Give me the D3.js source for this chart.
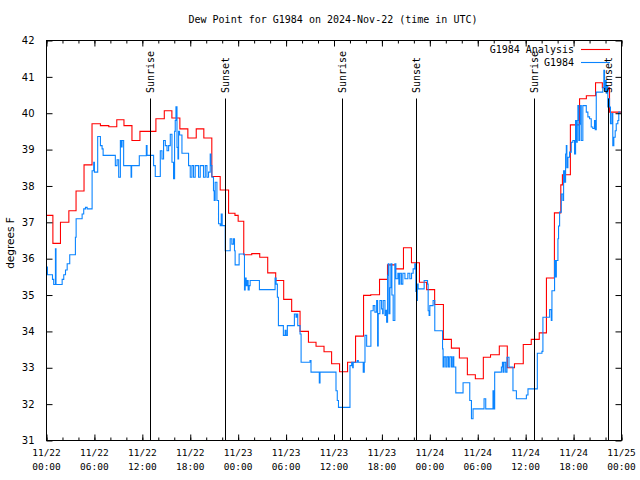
<!DOCTYPE html>
<html><head><meta charset="utf-8">
<script src="https://cdn.jsdelivr.net/npm/d3@7"></script>
<style>body{margin:0;background:#fff}svg{display:block}</style>
</head><body>
<svg id="c" width="640" height="480"></svg>
<script>
// ---- data (hours since 2024-11-22 00:00 UTC, degrees F) ----
const analysisT = [0,0.8,1.75,2.8,3.7,4.7,5.7,6.75,7.8,8.8,9.7,10.7,11.7,13.7,14.75,15.7,16.7,17.7,18.75,19.7,20.7,21.75,22.8,23.6,24.0,24.7,25.7,26.7,27.7,28.7,29.7,30.7,31.75,32.8,33.75,34.75,35.7,36.7,37.7,38.7,39.7,40.6,41.7,42.7,43.7,44.7,45.7,46.7,47.6,48.6,49.7,50.7,51.7,52.7,53.7,54.7,55.6,56.7,57.7,58.6,59.7,60.7,61.7,62.6,63.6,64.4,64.6,65.6,66.75,67.6,68.75,69.6,70.5,72];
const analysisV = [37.19,36.42,37.0,37.32,37.86,38.58,39.71,39.66,39.63,39.82,39.66,39.25,39.50,39.85,40.07,39.87,39.57,39.32,39.57,39.32,38.26,37.89,37.25,37.19,37.03,36.11,36.14,36.04,35.61,35.40,34.88,34.55,34.0,33.70,33.59,33.44,33.11,32.89,33.15,33.87,34.99,35.01,35.43,35.83,35.72,36.30,35.89,35.35,35.15,34.74,33.78,33.54,33.27,32.81,32.70,33.29,33.36,33.60,33.0,33.11,33.64,33.78,33.96,35.47,37.26,38.03,38.31,39.68,40.40,40.48,40.84,40.70,40.03,40.03];

const obsT = [0,0.12,0.75,0.9,1.12,1.19,1.96,2.16,2.38,2.59,2.91,3.62,3.71,4.46,4.66,4.88,5.09,5.71,5.91,6.0,6.41,6.75,6.96,7.09,8.62,8.84,9.04,9.25,9.34,9.46,9.66,10.59,10.66,11.62,12.5,12.59,13.41,13.62,14.25,14.46,14.66,14.88,15.09,15.29,15.5,15.71,15.91,16.04,16.12,16.21,16.34,16.46,16.54,16.66,16.96,17.79,18.0,18.21,18.41,18.62,19.04,19.25,19.66,19.88,20.09,20.29,20.5,20.59,20.71,20.91,21.0,21.12,21.34,21.54,21.75,21.88,22.0,22.38,23.0,23.21,23.41,23.54,23.62,24.12,24.79,24.88,25.0,25.12,25.25,25.38,25.5,26.66,28.62,28.75,28.91,29.04,29.66,29.88,30.0,30.16,31.04,31.25,31.34,31.46,31.75,31.88,33.0,33.12,34.16,34.25,36.25,36.41,36.56,38.0,38.21,38.34,38.41,38.91,39.04,39.66,39.79,39.88,40.09,40.62,40.91,41.12,41.34,41.46,41.54,41.75,41.96,42.09,42.16,42.38,42.46,42.59,42.71,42.79,42.88,43.0,43.12,43.25,43.41,43.62,43.75,44.0,44.12,44.25,44.44,44.62,44.88,45.25,45.5,45.71,45.91,46.12,46.25,46.34,46.44,46.54,47.29,47.71,47.79,47.91,48.0,48.41,48.62,49.59,49.66,49.79,50.0,50.16,50.34,50.5,50.71,50.87,51.0,51.25,52.16,53.0,53.21,53.41,54.79,55.0,55.91,56.04,56.12,56.96,57.09,57.16,57.29,57.5,57.66,57.91,58.41,58.84,60.09,60.29,61.0,61.46,62.04,62.16,63.0,63.21,63.29,63.62,63.75,63.84,64.04,64.12,64.25,64.46,64.66,64.75,64.88,65.0,65.09,65.16,65.29,65.5,65.71,65.91,66.12,66.25,66.34,66.46,66.54,66.66,66.75,66.88,66.96,67.16,67.59,67.79,68.0,68.21,68.41,68.62,68.71,68.84,69.66,69.79,69.88,70.0,70.09,70.16,70.29,70.41,70.5,70.62,70.79,70.91,71.04,71.21,71.34,71.54,71.66,71.87];
const obsV = [35.77,35.56,35.43,35.29,36.27,35.29,35.43,35.56,35.69,35.86,36.11,36.59,37.10,37.23,37.37,37.41,37.37,38.42,38.65,38.38,39.36,39.11,39.02,38.84,38.56,38.72,38.24,39.25,39.07,39.25,38.56,38.24,38.56,38.83,39.11,38.84,38.56,38.26,38.97,38.74,39.25,39.11,38.97,39.11,39.42,38.65,38.2,39.5,39.8,40.18,39.06,38.74,39.5,39.4,38.9,38.56,38.24,38.56,38.24,38.56,38.24,38.56,38.24,38.56,38.24,38.38,38.88,38.56,38.24,37.87,37.6,38.1,37.6,36.96,36.91,37.23,36.91,36.22,36.55,36.4,36.55,36.22,35.83,36.13,35.14,35.47,35.26,35.40,35.14,35.26,35.40,35.15,35.47,35.3,34.94,34.16,33.89,34.03,33.89,34.16,34.48,34.39,34.48,34.16,33.93,33.15,33.2,32.88,32.58,32.88,32.37,32.10,31.91,33.06,33.15,33.0,33.15,33.2,33.15,32.88,33.15,33.89,33.59,34.57,34.71,34.53,34.85,33.6,34.49,34.85,34.62,34.49,34.85,34.44,34.58,34.25,35.54,35.86,34.49,35.2,35.86,35.0,34.30,35.86,35.45,35.6,35.3,35.6,35.3,35.6,35.45,35.6,35.45,35.6,35.72,35.86,35.1,34.85,35.3,35.17,35.40,35.3,34.57,34.44,34.71,34.85,34.02,33.52,33.02,33.3,33.02,33.3,33.02,33.3,33.02,33.3,33.02,32.31,32.59,32.10,31.60,31.87,32.15,31.87,32.37,31.87,32.88,33.02,33.15,32.88,33.15,32.88,33.29,33.02,32.37,32.15,32.25,32.42,32.42,33.40,33.45,34.39,34.6,34.3,35.12,35.95,35.5,35.95,36.55,36.9,37.28,37.78,37.6,38.42,38.1,38.88,39.11,38.5,38.79,38.93,39.2,39.25,38.88,39.80,39.2,39.8,40.21,39.25,39.7,40.21,39.25,40.21,40.03,39.9,39.85,39.62,39.58,39.8,39.55,40.58,40.7,41.18,40.6,40.9,40.55,40.75,40.17,40.4,40.17,39.71,39.99,39.11,39.34,39.52,39.71,39.8,40.03,40.03];

const sunT = [12.96, 22.35, 37.0, 46.27, 61.04, 70.28];
const sunLabels = ["Sunrise","Sunset","Sunrise","Sunset","Sunrise","Sunset"];
const tickDates = ["11/22","11/22","11/22","11/22","11/23","11/23","11/23","11/23","11/24","11/24","11/24","11/24","11/25"];
const tickTimes = ["00:00","06:00","12:00","18:00","00:00","06:00","12:00","18:00","00:00","06:00","12:00","18:00","00:00"];
const yTicks = [31,32,33,34,35,36,37,38,39,40,41,42];
const seriesNames = ["G1984 Analysis","G1984"];
const seriesColors = ["#ff0000","#0a84ff"];
const title = "Dew Point for G1984 on 2024-Nov-22 (time in UTC)";
const yLabel = "degrees F";

// ---- drawing ----
const svg = d3.select("#c");
const L = 46.5, R = 621.5, T = 40.5, B = 440.5;
const x = d3.scaleLinear().domain([0,72]).range([L,R]);
const y = d3.scaleLinear().domain([31,42]).range([B,T]);
const mono = "'DejaVu Sans Mono', monospace";
const sans = "'DejaVu Sans', sans-serif";

svg.append("rect").attr("width",640).attr("height",480).attr("fill","#fff");

// data lines
const line = d3.line().curve(d3.curveStepAfter).x(d=>x(d[0])).y(d=>y(d[1]));
svg.append("clipPath").attr("id","pc").append("rect")
  .attr("x",L).attr("y",T).attr("width",R-L).attr("height",B-T);
const g = svg.append("g").attr("clip-path","url(#pc)");
g.append("path").datum(d3.zip(analysisT, analysisV)).attr("d",line)
  .attr("fill","none").attr("stroke",seriesColors[0]).attr("stroke-width",1.1);
g.append("path").datum(d3.zip(obsT, obsV)).attr("d",line)
  .attr("fill","none").attr("stroke",seriesColors[1]).attr("stroke-width",1.1);

// sunrise / sunset
sunT.forEach((t,i)=>{
  const xx = Math.round(x(t))+0.5;
  svg.append("line").attr("x1",xx).attr("x2",xx).attr("y1",B).attr("y2",98.5)
    .attr("stroke","#000").attr("stroke-width",1);
  svg.append("text").text(sunLabels[i])
    .attr("transform",`translate(${xx},93) rotate(-90)`)
    .attr("dy","0.38em").attr("text-anchor","start")
    .style("font-family",mono).style("font-size","10px").attr("fill","#000");
});

// axes
function styleAxis(sel){ sel.select(".domain").remove(); sel.selectAll("line").attr("stroke","#000"); }
const minor = d3.range(0,73,2), major = d3.range(0,73,6);
svg.append("g").attr("transform",`translate(0,${B})`)
  .call(d3.axisBottom(x).tickValues(minor).tickSize(-3).tickFormat("")).call(styleAxis);
svg.append("g").attr("transform",`translate(0,${T})`)
  .call(d3.axisTop(x).tickValues(minor).tickSize(-3).tickFormat("")).call(styleAxis);
svg.append("g").attr("transform",`translate(0,${B})`)
  .call(d3.axisBottom(x).tickValues(major).tickSize(-6).tickFormat("")).call(styleAxis);
svg.append("g").attr("transform",`translate(0,${T})`)
  .call(d3.axisTop(x).tickValues(major).tickSize(-6).tickFormat("")).call(styleAxis);
major.forEach((t,i)=>{
  const tx = svg.append("text").attr("text-anchor","middle")
    .style("font-family",mono).style("font-size","9.5px").attr("fill","#000");
  tx.append("tspan").attr("x",x(t)).attr("y",456).text(tickDates[i]);
  tx.append("tspan").attr("x",x(t)).attr("y",470).text(tickTimes[i]);
});
svg.append("g").attr("transform",`translate(${L},0)`)
  .call(d3.axisLeft(y).tickValues(yTicks).tickSize(-6).tickPadding(12).tickFormat(d3.format("d")))
  .call(styleAxis)
  .selectAll("text").style("font-family",sans).style("font-size","10px").attr("fill","#000");
svg.append("g").attr("transform",`translate(${R},0)`)
  .call(d3.axisRight(y).tickValues(yTicks).tickSize(-6).tickFormat("")).call(styleAxis);

// frame
svg.append("rect").attr("x",L).attr("y",T).attr("width",R-L).attr("height",B-T)
  .attr("fill","none").attr("stroke","#000").attr("stroke-width",1);

// title & labels
svg.append("text").attr("x",333).attr("y",23).attr("text-anchor","middle")
  .style("font-family",mono).style("font-size","10px").text(title);
svg.append("text").attr("transform","translate(14,243) rotate(-90)").attr("text-anchor","middle")
  .style("font-family",sans).style("font-size","10.5px").text(yLabel);

// legend
[0,1].forEach(i=>{
  const ly = 49.5 + i*13;
  svg.append("text").attr("x",574).attr("y",ly).attr("dy","0.35em").attr("text-anchor","end")
    .style("font-family",mono).style("font-size","10px").text(seriesNames[i]);
  svg.append("line").attr("x1",581).attr("x2",610).attr("y1",ly).attr("y2",ly)
    .attr("stroke",seriesColors[i]).attr("stroke-width",1.1);
});
</script>
</body></html>
